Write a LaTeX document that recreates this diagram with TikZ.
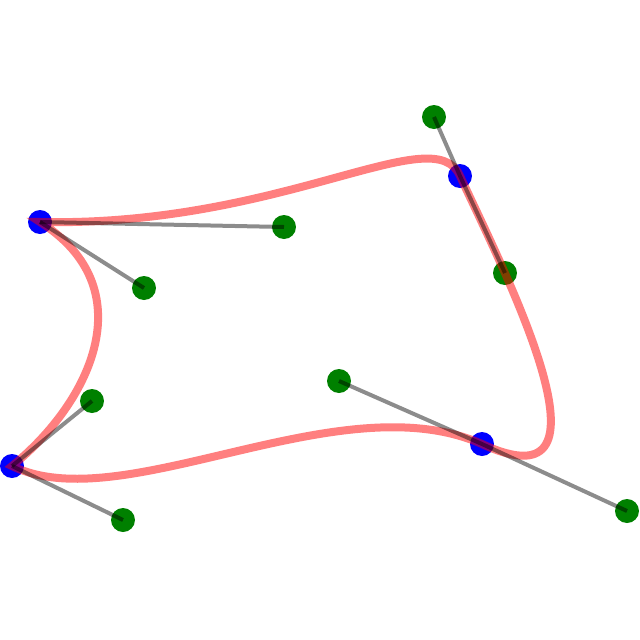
\documentclass[tikz,border=0pt]{standalone}
\begin{document}
\begin{tikzpicture}
  [
    x=0.02cm, y=-0.02cm,
    anchorpt/.style={circle, fill=blue, inner sep=0pt, minimum size=4.8mm},
    ctrlpt/.style={circle, fill=green!50!black, inner sep=0pt, minimum size=4.8mm},
    bez/.style={draw=red, draw opacity=0.5, line width=1.6mm},
    hd/.style={draw=black, draw opacity=0.45, line width=0.8mm}
  ]
  \useasboundingbox (0,0) rectangle (640,640);
  \node (a1) at (40,222) [anchorpt] {};
  \node (a2) at (460,176) [anchorpt] {};
  \node (a3) at (482,444) [anchorpt] {};
  \node (a4) at (12,466) [anchorpt] {};

  \node (c1a) at (284,227) [ctrlpt] {};
  \node (c2b) at (434,117) [ctrlpt] {};
  \node (c2a) at (505,273) [ctrlpt] {};
  \node (c3b) at (627,511) [ctrlpt] {};
  \node (c3a) at (339,381) [ctrlpt] {};
  \node (c4b) at (123,520) [ctrlpt] {};
  \node (c4a) at (92,401) [ctrlpt] {};
  \node (c1b) at (144,288) [ctrlpt] {};

  \path [bez] (a1.center) .. controls (c1a.center) and (c2b.center) .. (a2.center)
    .. controls (c2a.center) and (c3b.center) .. (a3.center)
    .. controls (c3a.center) and (c4b.center) .. (a4.center)
    .. controls (c4a.center) and (c1b.center) .. (a1.center) -- cycle;

  \draw [hd] (a1.center) -- (c1a.center);
  \draw [hd] (a1.center) -- (c1b.center);
  \draw [hd] (a2.center) -- (c2b.center);
  \draw [hd] (a2.center) -- (c2a.center);
  \draw [hd] (a3.center) -- (c3a.center);
  \draw [hd] (a3.center) -- (c3b.center);
  \draw [hd] (a4.center) -- (c4a.center);
  \draw [hd] (a4.center) -- (c4b.center);
\end{tikzpicture}
\end{document}
